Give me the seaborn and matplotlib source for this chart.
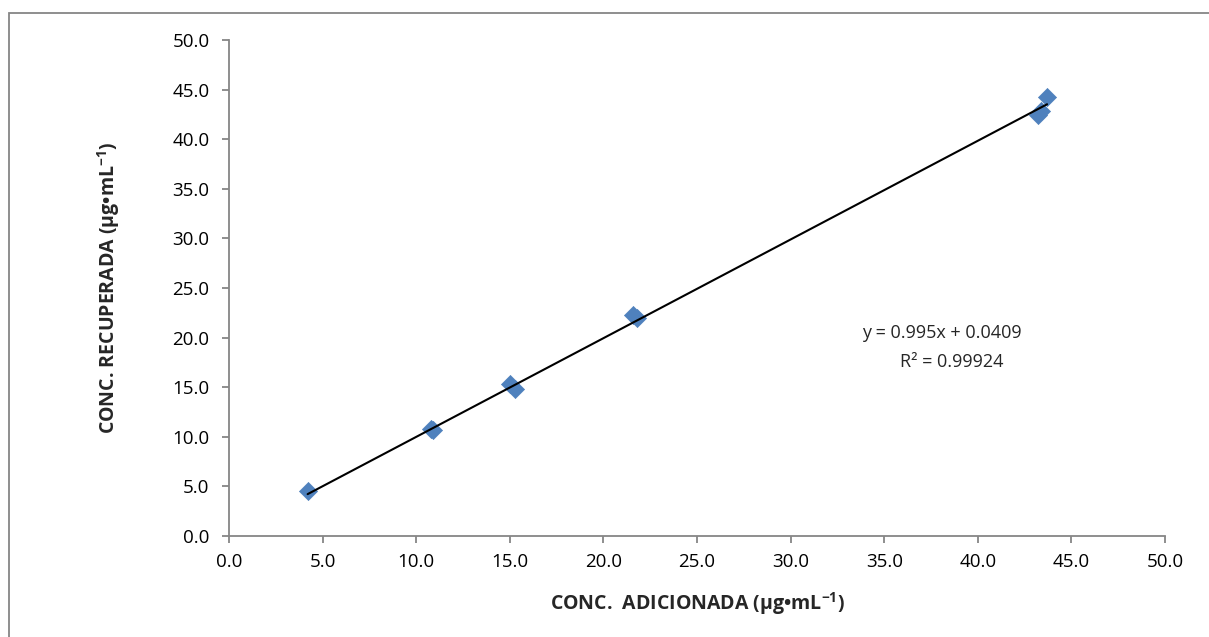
import matplotlib
matplotlib.use("Agg")
import matplotlib.pyplot as plt
import seaborn as sns
import numpy as np
import pandas as pd
from matplotlib.patches import Rectangle

x_added = [4.2, 10.8, 10.9, 15.0, 15.3, 21.6, 21.8, 43.2, 43.4, 43.7]
y_recovered = [4.5, 10.8, 10.7, 15.3, 14.8, 22.3, 22.0, 42.4, 42.8, 44.3]
slope = 0.995
intercept = 0.0409
r2_text = "R² = 0.99924"
eq_text = "y = 0.995x + 0.0409"
x_label = "CONC.  ADICIONADA (μg•mL$^{\\mathbf{-1}}$)"
y_label = "CONC. RECUPERADA (μg•mL$^{\\mathbf{-1}}$)"
ticks = [0, 5, 10, 15, 20, 25, 30, 35, 40, 45, 50]

sns.set_theme(style="white")
plt.rcParams['font.family'] = ['Open Sans', 'DejaVu Sans']
plt.rcParams['mathtext.fontset'] = 'custom'
plt.rcParams['mathtext.rm'] = 'Open Sans'
plt.rcParams['mathtext.bf'] = 'Open Sans:bold'

df = pd.DataFrame({"x": x_added, "y": y_recovered})

fig = plt.figure(figsize=(12.09, 6.37), dpi=100)
ax = fig.add_axes([229/1209, 1-536/637, (1165-229)/1209, (536-40)/637])

fig.patches.append(Rectangle((9/1209, -0.1), 1.2, 1-13/637+0.1, transform=fig.transFigure,
                             fill=False, edgecolor="#868686", linewidth=1.3))

xs = np.array([min(x_added), max(x_added)])
ax.plot(xs, slope*xs + intercept, color="black", linewidth=1.5, zorder=3)
sns.scatterplot(data=df, x="x", y="y", marker="D", s=85, color="#4F81BD",
                edgecolor="#4F81BD", linewidth=0.5, ax=ax, zorder=2)

ax.set_xlim(0, 50)
ax.set_ylim(0, 50)
ax.set_xticks(ticks)
ax.set_yticks(ticks)
ax.set_xticklabels([f"{t:.1f}" for t in ticks])
ax.set_yticklabels([f"{t:.1f}" for t in ticks])
ax.tick_params(axis="both", which="both", direction="out", length=5, width=1.3,
               labelsize=13.5, bottom=True, left=True, colors="#868686", labelcolor="black")
ax.tick_params(axis="y", pad=9)
ax.tick_params(axis="x", pad=7)
for s in ["top", "right"]:
    ax.spines[s].set_visible(False)
for s in ["left", "bottom"]:
    ax.spines[s].set_color("#868686")
    ax.spines[s].set_linewidth(1.3)

ax.set_xlabel(x_label, fontsize=14, fontweight="bold", labelpad=14)
ax.set_ylabel(y_label, fontsize=14, fontweight="bold", labelpad=36)

ax.text(38.1, 20.46, eq_text, fontsize=13, ha="center", va="center")
ax.text(38.6, 17.54, r2_text, fontsize=13, ha="center", va="center")

fig.savefig("out.png", dpi=100)
